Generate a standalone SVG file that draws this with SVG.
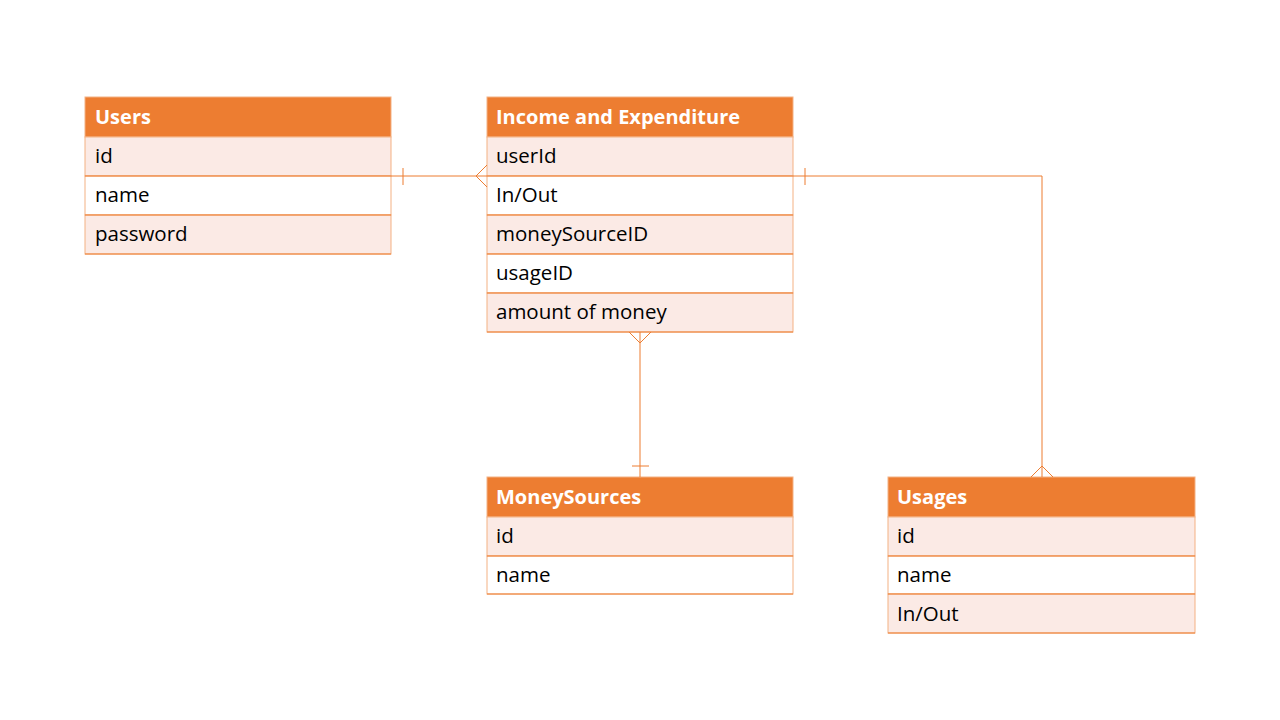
<svg xmlns="http://www.w3.org/2000/svg" width="1280" height="720" viewBox="0 0 1280 720">
<style>
.hd{fill:#ED7D31;stroke:#F4B183;stroke-width:1}
.ra{fill:#FBEAE5;stroke:#F4B183;stroke-width:1}
.rb{fill:#FFFFFF;stroke:#F4B183;stroke-width:1}
.sep{stroke:#ED7D31;stroke-width:1}
.ht{font-family:"Open Sans","Liberation Sans",sans-serif;font-weight:bold;font-size:20px;fill:#FFFFFF}
.rt{font-family:"Open Sans","Liberation Sans",sans-serif;font-size:20.5px;fill:#000000}
.cn{fill:none;stroke:#ED7D31;stroke-width:1}
</style>
<rect width="1280" height="720" fill="#FFFFFF"/>
<g id="users">
<rect class="hd" x="85" y="97" width="306" height="40"/>
<rect class="ra" x="85" y="137" width="306" height="39"/>
<rect class="rb" x="85" y="176" width="306" height="39"/>
<rect class="ra" x="85" y="215" width="306" height="39"/>
<line class="sep" x1="85" y1="176" x2="391" y2="176"/>
<line class="sep" x1="85" y1="215" x2="391" y2="215"/>
<line class="sep" x1="85" y1="254" x2="391" y2="254"/>
<text class="ht" x="95" y="124">Users</text>
<text class="rt" x="95" y="163">id</text>
<text class="rt" x="95" y="202">name</text>
<text class="rt" x="95" y="241">password</text>
</g>
<g id="income">
<rect class="hd" x="487" y="97" width="306" height="40"/>
<rect class="ra" x="487" y="137" width="306" height="39"/>
<rect class="rb" x="487" y="176" width="306" height="39"/>
<rect class="ra" x="487" y="215" width="306" height="39"/>
<rect class="rb" x="487" y="254" width="306" height="39"/>
<rect class="ra" x="487" y="293" width="306" height="39"/>
<line class="sep" x1="487" y1="176" x2="793" y2="176"/>
<line class="sep" x1="487" y1="215" x2="793" y2="215"/>
<line class="sep" x1="487" y1="254" x2="793" y2="254"/>
<line class="sep" x1="487" y1="293" x2="793" y2="293"/>
<line class="sep" x1="487" y1="332" x2="793" y2="332"/>
<text class="ht" x="496" y="124">Income and Expenditure</text>
<text class="rt" x="496" y="163">userId</text>
<text class="rt" x="496" y="202">In/Out</text>
<text class="rt" x="496" y="241">moneySourceID</text>
<text class="rt" x="496" y="280">usageID</text>
<text class="rt" x="496" y="319">amount of money</text>
</g>
<g id="moneysources">
<rect class="hd" x="487" y="477" width="306" height="40"/>
<rect class="ra" x="487" y="517" width="306" height="39"/>
<rect class="rb" x="487" y="556" width="306" height="38"/>
<line class="sep" x1="487" y1="556" x2="793" y2="556"/>
<line class="sep" x1="487" y1="594" x2="793" y2="594"/>
<text class="ht" x="496" y="504">MoneySources</text>
<text class="rt" x="496" y="543">id</text>
<text class="rt" x="496" y="582">name</text>
</g>
<g id="usages">
<rect class="hd" x="888" y="477" width="307" height="40"/>
<rect class="ra" x="888" y="517" width="307" height="39"/>
<rect class="rb" x="888" y="556" width="307" height="38"/>
<rect class="ra" x="888" y="594" width="307" height="39"/>
<line class="sep" x1="888" y1="556" x2="1195" y2="556"/>
<line class="sep" x1="888" y1="594" x2="1195" y2="594"/>
<line class="sep" x1="888" y1="633" x2="1195" y2="633"/>
<text class="ht" x="897" y="504">Usages</text>
<text class="rt" x="897" y="543">id</text>
<text class="rt" x="897" y="582">name</text>
<text class="rt" x="897" y="621">In/Out</text>
</g>
<g id="connectors">
<path class="cn" d="M391 176 H487"/>
<path class="cn" d="M403 168 V185"/>
<path class="cn" d="M487 165 L476 176 L487 187"/>
<path class="cn" d="M640 332 V477"/>
<path class="cn" d="M629 332 L640 343 L651 332"/>
<path class="cn" d="M632 466 H649"/>
<path class="cn" d="M793 176 H1042 V477"/>
<path class="cn" d="M805 168 V185"/>
<path class="cn" d="M1031 477 L1042 466 L1053 477"/>
</g>
</svg>
